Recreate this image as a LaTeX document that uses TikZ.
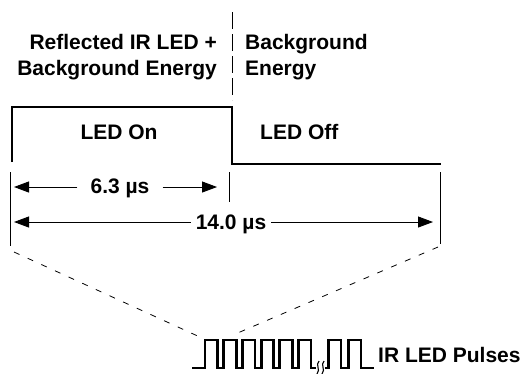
\documentclass[tikz,border=0pt]{standalone}
\usepackage{fontspec}
\setmainfont{Liberation Sans}
\usetikzlibrary{arrows.meta}
\begin{document}
\begin{tikzpicture}[x=1pt,y=-1pt,
  lab/.style={font=\fontsize{21}{25}\selectfont\bfseries, inner sep=0pt},
  wave/.style={line width=2.8pt, line join=miter, line cap=butt},
  pulse/.style={line width=2.8pt, line join=miter, line cap=butt},
  tick/.style={line width=0.8pt},
  dimarrow/.style={line width=0.9pt, -{Triangle[length=15pt,width=11pt]}},
  divider/.style={line width=0.8pt, dash pattern=on 17pt off 5pt},
  zoomline/.style={line width=0.8pt, dash pattern=on 6pt off 9pt}]
\path[use as bounding box] (0,0) rectangle (529,373);

% header texts
\node[lab, anchor=base east] (refl1) at (217,49) {Reflected IR LED +};
\node[lab, anchor=base east] (refl2) at (217,75) {Background Energy};
\node[lab, anchor=base west] (bg1) at (245,49) {Background};
\node[lab, anchor=base west] (bg2) at (245,75) {Energy};

% divider
\coordinate (divtop) at (232,12);
\coordinate (divbot) at (232,100);
\draw[divider] (divtop) -- (divbot);

% waveform
\draw[wave] (12,162) -- (12,107) -- (232,107) -- (232,164) -- (441,164);
\node[lab, anchor=base] (on) at (119,139) {LED On};
\node[lab, anchor=base west] (off) at (260,139) {LED Off};

% ticks
\coordinate (lt1) at (10,172); \coordinate (lt2) at (10,246);
\coordinate (mt1) at (229,172); \coordinate (mt2) at (229,202);
\coordinate (rt1) at (440,172); \coordinate (rt2) at (440,244);
\draw[tick] (lt1) -- (lt2);
\draw[tick] (mt1) -- (mt2);
\draw[tick] (rt1) -- (rt2);

% 6.3 us
\coordinate (a63l) at (14,187);
\coordinate (a63r) at (217,187);
\node[lab, anchor=base, inner xsep=13pt] (t63) at (120,193) {6.3 µs};
\draw[dimarrow] (t63.west |- a63l) -- (a63l);
\draw[dimarrow] (t63.east |- a63r) -- (a63r);

% 14.0 us
\coordinate (a14l) at (14,222);
\coordinate (a14r) at (433,222);
\node[lab, anchor=base, inner xsep=5pt] (t14) at (231,229) {14.0 µs};
\draw[dimarrow] (t14.west |- a14l) -- (a14l);
\draw[dimarrow] (t14.east |- a14r) -- (a14r);

% zoom lines
\coordinate (zl1) at (14,252); \coordinate (zl2) at (202,338);
\coordinate (zr1) at (438,247); \coordinate (zr2) at (233,335);
\draw[zoomline] (zl1) -- (zl2);
\draw[zoomline] (zr1) -- (zr2);

% pulses
\draw[pulse] (192,368)
  foreach \r in {205,223.7,242.4,261.1,279.8,298.5} {
    -- (\r,368) -- (\r,340) -- ({\r+12.5},340) -- ({\r+12.5},368)
  } -- (316,368);
\draw[pulse] (325,368)
  foreach \r in {328.5,348.5} {
    -- (\r,368) -- (\r,340) -- ({\r+12.5},340) -- ({\r+12.5},368)
  } -- (374,368);
% break marks
\foreach \k in {0,5} {
  \draw[line width=1.1pt] ({319+\k},361) .. controls ({315+\k},365) and ({321+\k},369) .. ({317+\k},374);
}
\node[lab, anchor=base west] (pulses) at (378,362) {IR LED Pulses};
\end{tikzpicture}
\end{document}
